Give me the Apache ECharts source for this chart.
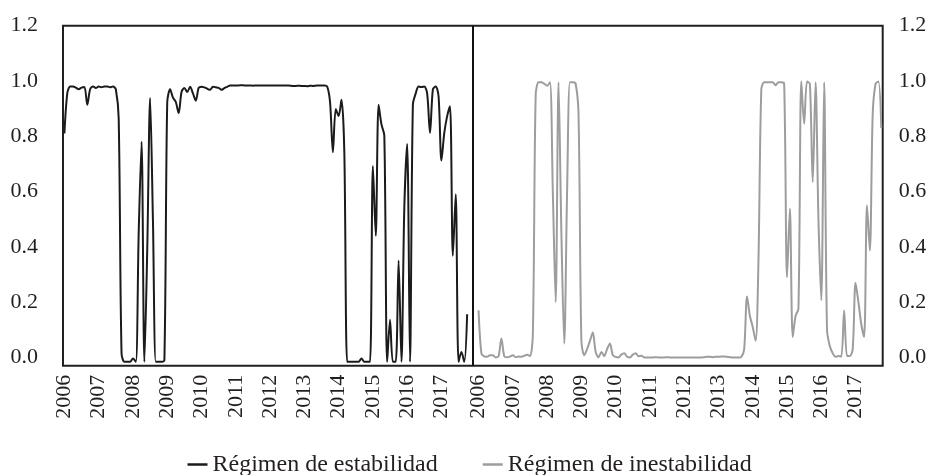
<!DOCTYPE html>
<html>
<head>
<meta charset="utf-8">
<script src="https://cdn.jsdelivr.net/npm/echarts@6/dist/echarts.min.js"></script>
<style>html,body{margin:0;padding:0;background:#fff}#c{width:938px;height:475px}</style>
</head>
<body>
<div id="c"></div>
<script>
// ---- data ----
const years = ['2006','2007','2008','2009','2010','2011','2012','2013','2014','2015','2016','2017'];
const monthsPerPanel = 142;
const gapCategories = 3;
const stableName = 'Régimen de estabilidad';
const unstableName = 'Régimen de inestabilidad';
const yTicks = [0, 0.2, 0.4, 0.6, 0.8, 1.0, 1.2];

const stable = [
  0.81, 0.955, 0.98, 0.98, 0.976, 0.97, 0.976, 0.978, 0.914, 0.97,
  0.98, 0.975, 0.98, 0.977, 0.98, 0.98, 0.977, 0.98, 0.97, 0.864,
  0.014, -0.016, -0.016, -0.016, -0.004, -0.016, 0.45, 0.78, -0.016, 0.39,
  0.938, 0.49, -0.016, -0.016, -0.016, -0.01, 0.924, 0.97, 0.94, 0.924,
  0.884, 0.96, 0.975, 0.96, 0.979, 0.955, 0.929, 0.975, 0.979, 0.977,
  0.972, 0.968, 0.979, 0.977, 0.975, 0.968, 0.974, 0.979, 0.984, 0.984,
  0.984, 0.984, 0.985, 0.984, 0.984, 0.984, 0.983, 0.984, 0.984, 0.984,
  0.984, 0.984, 0.984, 0.984, 0.984, 0.984, 0.984, 0.984, 0.984, 0.983,
  0.982, 0.982, 0.983, 0.982, 0.982, 0.981, 0.983, 0.982, 0.983, 0.984,
  0.984, 0.984, 0.98, 0.924, 0.742, 0.899, 0.873, 0.932, 0.742, -0.016,
  -0.016, -0.016, -0.016, -0.016, -0.004, -0.016, -0.016, -0.016, 0.692, 0.44,
  0.914, 0.843, 0.803, -0.016, 0.136, -0.016, -0.016, 0.351, -0.016, 0.54,
  0.772, -0.016, 0.914, 0.955, 0.98, 0.978, 0.98, 0.955, 0.812, 0.97,
  0.98, 0.944, 0.712, 0.812, 0.873, 0.909, 0.368, 0.59, -0.016, 0.02,
  -0.016, 0.156
];

const unstable = [
  0.17, 0.014, 0.004, 0.002, 0.008, 0.008, 0.0, 0.004, 0.068, 0.004,
  0.001, 0.003, 0.008, 0.001, 0.003, 0.002, 0.006, 0.01, 0.005, 0.08,
  0.95, 0.995, 0.995, 0.99, 0.983, 0.995, 0.6, 0.2, 0.995, 0.45,
  0.05, 0.6, 0.995, 0.995, 0.99, 0.88, 0.06, 0.008, 0.03, 0.06,
  0.09, 0.02, 0.0, 0.02, 0.005, 0.03, 0.05, 0.008, 0.002, 0.0,
  0.01, 0.015, 0.003, 0.0, 0.01, 0.015, 0.004, 0.006, 0.0, 0.0,
  0.0, 0.0, 0.001, 0.0, 0.0, 0.0, 0.001, 0.0, 0.0, 0.0,
  0.0, 0.0, 0.0, 0.0, 0.0, 0.0, 0.0, 0.0, 0.0, 0.001,
  0.002, 0.002, 0.001, 0.002, 0.002, 0.003, 0.003, 0.002, 0.001, 0.0,
  0.0, 0.0, 0.002, 0.03, 0.22, 0.15, 0.11, 0.06, 0.35, 0.97,
  0.995, 0.995, 0.995, 0.995, 0.985, 0.995, 0.995, 0.99, 0.29, 0.538,
  0.074, 0.15, 0.177, 0.998, 0.845, 0.998, 0.99, 0.634, 0.995, 0.5,
  0.207, 0.995, 0.1, 0.04, 0.015, 0.002, 0.005, 0.003, 0.17, 0.005,
  0.005, 0.03, 0.27, 0.2, 0.12, 0.074, 0.55, 0.387, 0.88, 0.99,
  0.998, 0.83
];

// ---- build categories (January of each year is labelled) ----
function panelCategories() {
  const out = [];
  for (let k = 0; k < monthsPerPanel; k++) {
    out.push(k % 12 === 0 ? years[Math.floor(k / 12)] : '');
  }
  return out;
}
const gapCats = new Array(gapCategories).fill('');
const categories = panelCategories().concat(gapCats, panelCategories());
const unstableSeriesData = new Array(monthsPerPanel + gapCategories).fill(null).concat(unstable);

const FONT = "'Liberation Serif', 'Times New Roman', serif";
const TXT = '#231f20';

const chart = echarts.init(document.getElementById('c'), null, {renderer: 'canvas'});
chart.setOption({
  animation: false,
  backgroundColor: '#ffffff',
  grid: {
    left: 63, right: 55.3, top: 25.7, bottom: 109.3,
    show: true, borderColor: '#231f20', borderWidth: 2,
    containLabel: false
  },
  legend: {
    left: 187.5, top: 452.5, padding: 0,
    itemWidth: 20, itemHeight: 2.5, itemGap: 45, icon: 'rect',
    textStyle: {fontSize: 24, fontFamily: FONT, color: TXT, padding: [0, 0, 9, 0]},
    data: [stableName, unstableName]
  },
  xAxis: {
    type: 'category',
    data: categories,
    boundaryGap: true,
    axisLine: {show: false},
    axisTick: {show: false},
    splitLine: {show: false},
    axisLabel: {interval: 0, rotate: 90, margin: 9, fontSize: 22, fontFamily: FONT, color: TXT}
  },
  yAxis: [
    {
      type: 'value', position: 'left', min: -0.03, max: 1.2,
      axisLine: {show: false}, axisTick: {show: false}, splitLine: {show: false},
      axisLabel: {customValues: yTicks, formatter: v => v.toFixed(1), margin: 25, fontSize: 22, fontFamily: FONT, color: TXT}
    },
    {
      type: 'value', position: 'right', min: -0.03, max: 1.2,
      axisLine: {show: false}, axisTick: {show: false}, splitLine: {show: false},
      axisLabel: {customValues: yTicks, formatter: v => v.toFixed(1), margin: 16, fontSize: 22, fontFamily: FONT, color: TXT}
    }
  ],
  series: [
    {
      name: stableName, type: 'line', yAxisIndex: 0,
      data: stable, symbol: 'none', smooth: 0.3,
      color: '#1b1b1b', itemStyle: {color: '#1b1b1b'},
      lineStyle: {color: '#1b1b1b', width: 2},
      markLine: {
        silent: true, symbol: ['none', 'none'], label: {show: false},
        lineStyle: {color: '#111111', width: 2, type: 'solid'},
        data: [{xAxis: monthsPerPanel + 1}]
      }
    },
    {
      name: unstableName, type: 'line', yAxisIndex: 1,
      data: unstableSeriesData, symbol: 'none', smooth: 0.3,
      color: '#9d9d9d', itemStyle: {color: '#9d9d9d'},
      lineStyle: {color: '#9d9d9d', width: 2}
    }
  ]
});
</script>
</body>
</html>
